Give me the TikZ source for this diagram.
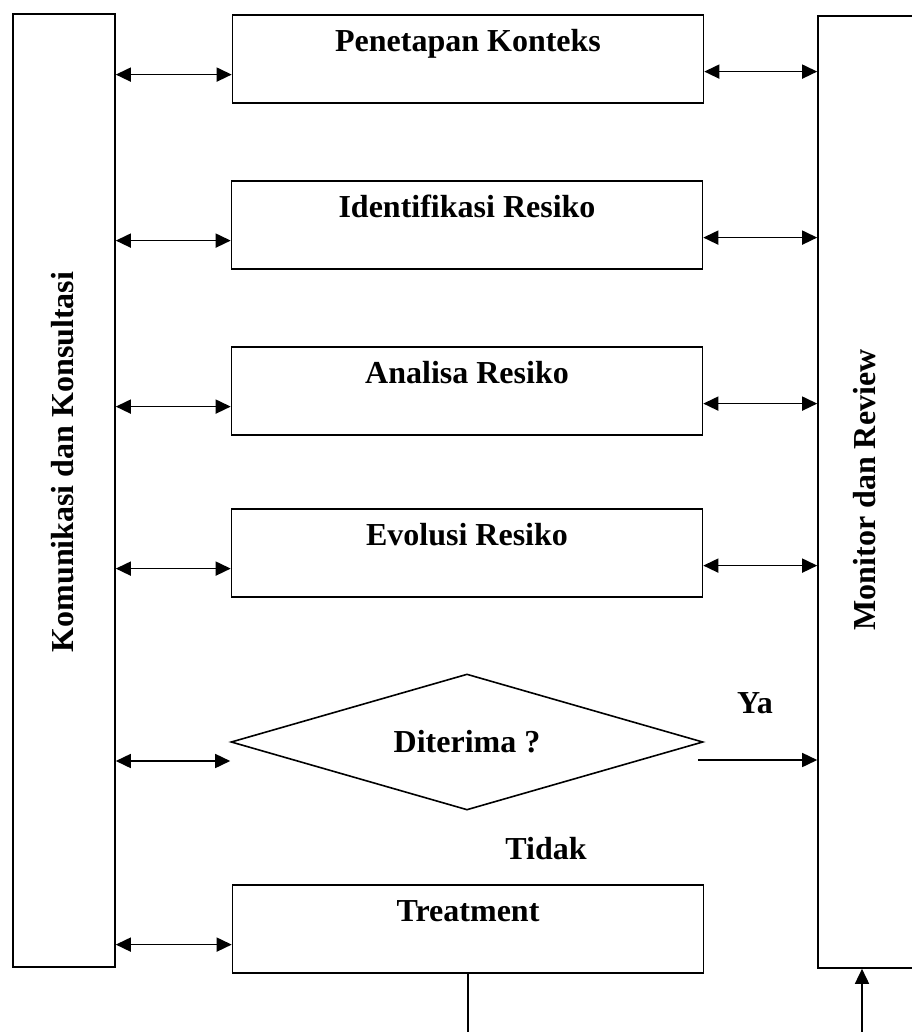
\documentclass[tikz,border=0pt]{standalone}
\usepackage{fontspec}
\setmainfont{Liberation Serif}
\usetikzlibrary{shapes.geometric,positioning,arrows.meta}
\tikzset{
stepbox/.style={
  draw,
  line width=1.6pt,
  minimum width=471pt,
  text height=37pt,
  text depth=51pt,
  inner ysep=0pt,
  anchor=north
  },
sidebox/.style={
  draw,
  line width=1.6pt,
  inner sep=0pt,
  minimum width=#1
  },
decision/.style={
  draw,
  diamond,
  line width=1.6pt,
  aspect=3.4,
  inner sep=0pt,
  minimum width=472pt,
  minimum height=136pt
  },
tag/.style={
  font=\fontsize{32}{38}\selectfont\bfseries
  }
}

\begin{document}
\begin{tikzpicture}[x=1pt,y=-1pt,>={Triangle[length=15pt,width=14pt]},
  every node/.append style={tag}]

\useasboundingbox (0,0) rectangle (911,1032);

% side columns
\node[sidebox=102pt,minimum height=953pt] (kom) at (64,490.5) {};
\node[rotate=90] (komtext) at (63,462) {Komunikasi dan Konsultasi};

\node[sidebox=97pt,minimum height=952pt] (mon) at (866.5,492) {};
\node[rotate=90] (montext) at (865,490) {Monitor dan Review};

% process steps
\node[stepbox] (pen) at (468,14) {Penetapan Konteks};
\node[stepbox] (ide) at (467,180) {Identifikasi Resiko};
\node[stepbox] (ana) at (467,346) {Analisa Resiko};
\node[stepbox] (evo) at (467,508) {Evolusi Resiko};
\node[decision] (dit) at (467,742) {Diterima ?};
\node[stepbox] (tre) at (468,884) {Treatment};

\node (ya) at (755,703) {Ya};
\node (tidak) at (546,849) {Tidak};

\begin{scope}[line width=1.6pt]

\foreach \s in {pen,ide,ana,evo,tre}
{
  \coordinate (\s-l) at ([yshift=29pt]\s.south west);
  \draw[<->] (kom.east |- \s-l) -- (\s-l);
}

\foreach \s in {pen,ide,ana,evo}
{
  \coordinate (\s-r) at ([yshift=32pt]\s.south east);
  \draw[<->] (\s-r) -- (mon.west |- \s-r);
}

\coordinate (dit-l) at ([yshift=-19pt]dit.west);
\draw[<->] (kom.east |- dit-l) -- (dit-l);

\coordinate (dit-r) at ([xshift=-6pt,yshift=-18pt]dit.east);
\draw[->] (dit-r) -- (mon.west |- dit-r);

\coordinate (trebot) at (468,1045);
\draw (tre.south) -- (tre.south |- trebot);

\coordinate (monbot) at (862,1045);
\draw[->] (monbot) -- (monbot |- mon.south);

\end{scope}
\end{tikzpicture}
\end{document}
